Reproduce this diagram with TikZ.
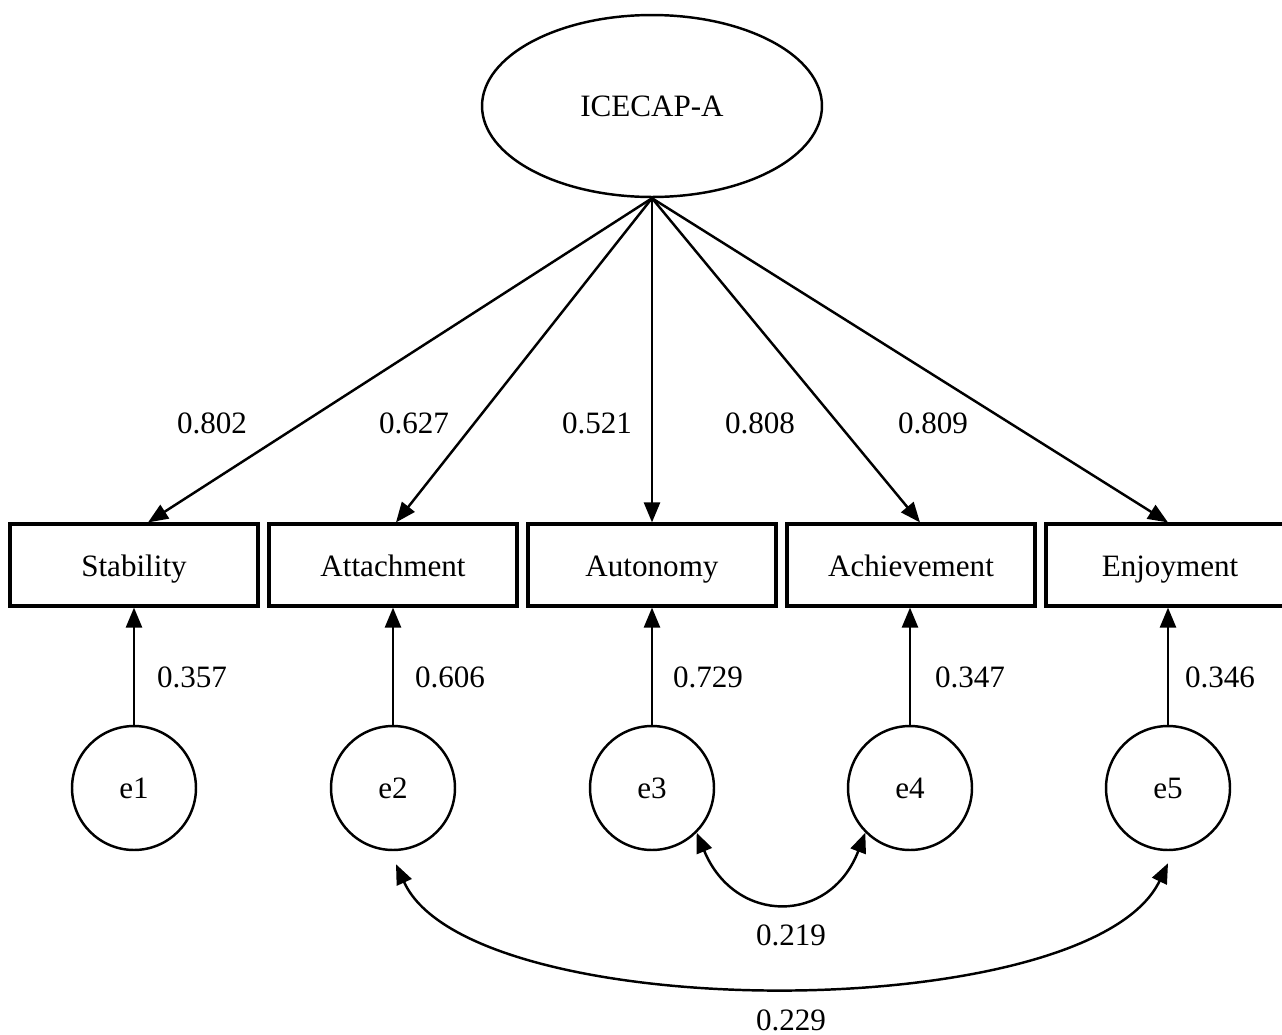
\documentclass[tikz,border=0pt]{standalone}
\usepackage{fontspec}
\setmainfont{Liberation Serif}
\usetikzlibrary{shapes.geometric,arrows.meta,calc}
\begin{document}
\begin{tikzpicture}[x=0.02cm,y=-0.02cm,
  every node/.style={font=\fontsize{17.7}{21}\selectfont},
  lat/.style={draw,ellipse,line width=1.4pt,minimum width=6.8cm,minimum height=3.64cm,inner sep=0pt},
  obs/.style={draw,rectangle,line width=1.8pt,minimum width=4.96cm,minimum height=1.64cm,inner sep=0pt,text height=16.3pt,text depth=2.7pt},
  err/.style={draw,circle,line width=1.4pt,minimum size=2.48cm,inner sep=0pt},
  lab/.style={inner sep=0pt},
  arr/.style={line width=1.4pt,-{Triangle[length=0.4cm,width=0.32cm]}},
  darr/.style={line width=1.4pt,{Triangle[length=0.4cm,width=0.32cm]}-{Triangle[length=0.4cm,width=0.32cm]}}
]
\useasboundingbox (0,0) rectangle (1282,1035);
\clip (0,0) rectangle (1282,1035);
\node[lat] (ice) at (652,106) {ICECAP-A};
\node[obs] (stab) at (134,565) {Stability};
\node[obs] (att) at (393,565) {Attachment};
\node[obs] (aut) at (652,565) {Autonomy};
\node[obs] (ach) at (911,565) {Achievement};
\node[obs] (enj) at (1170,565) {Enjoyment};
\node[err] (e1) at (134,788) {e1};
\node[err] (e2) at (393,788) {e2};
\node[err] (e3) at (652,788) {e3};
\node[err] (e4) at (910,788) {e4};
\node[err] (e5) at (1168,788) {e5};
% loadings
\draw[arr] (ice.south) -- ($(stab.north)+(14,0)$);
\draw[arr] (ice.south) -- ($(att.north)+(3,0)$);
\draw[arr] (ice.south) -- (aut.north);
\draw[arr] (ice.south) -- ($(ach.north)+(9,0)$);
\draw[arr] (ice.south) -- ($(enj.north)+(-2,0)$);
% errors
\draw[arr] (e1.north) -- (e1.north |- stab.south);
\draw[arr] (e2.north) -- (e2.north |- att.south);
\draw[arr] (e3.north) -- (e3.north |- aut.south);
\draw[arr] (e4.north) -- (e4.north |- ach.south);
\draw[arr] (e5.north) -- (e5.north |- enj.south);
% covariances
\coordinate (c2) at ($(e2.south)+(3,13)$);
\coordinate (c5) at ($(e5.south)+(0,12)$);
\draw[darr] (e3.-45) .. controls (735,925) and (830,925) .. (e4.-135);
\draw[darr] (c2) .. controls (470,1027) and (1090,1027) .. (c5);
% labels
\node[lab] (l1) at (212,423) {0.802};
\node[lab] (l2) at (414,423) {0.627};
\node[lab] (l3) at (597,423) {0.521};
\node[lab] (l4) at (760,423) {0.808};
\node[lab] (l5) at (933,423) {0.809};
\node[lab] (m1) at (192,677) {0.357};
\node[lab] (m2) at (450,677) {0.606};
\node[lab] (m3) at (708,677) {0.729};
\node[lab] (m4) at (970,677) {0.347};
\node[lab] (m5) at (1220,677) {0.346};
\node[lab] (k1) at (791,935) {0.219};
\node[lab] (k2) at (791,1020) {0.229};
\end{tikzpicture}
\end{document}
